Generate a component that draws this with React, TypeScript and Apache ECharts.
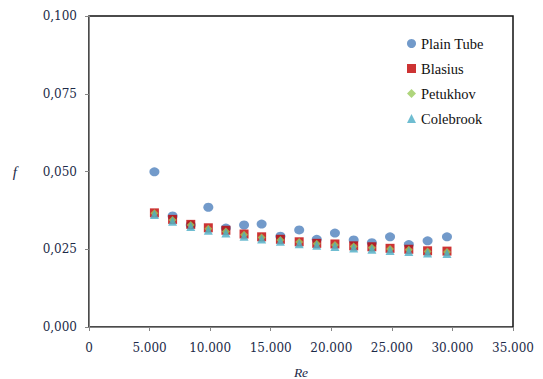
import React, { useEffect, useRef } from "react";
import * as echarts from "echarts";

const reynolds = [5400, 6900, 8400, 9850, 11300, 12800, 14250, 15800, 17350, 18800, 20300, 21850, 23350, 24850, 26400, 27950, 29550];
const plainTube = [0.0499, 0.0357, 0.0328, 0.0385, 0.0318, 0.0328, 0.0331, 0.0292, 0.0312, 0.0282, 0.0302, 0.0280, 0.0271, 0.0290, 0.0265, 0.0277, 0.0290];
const blasius = [0.0367, 0.0346, 0.0330, 0.0319, 0.0311, 0.0299, 0.0290, 0.0282, 0.0274, 0.0269, 0.0267, 0.0261, 0.0258, 0.0253, 0.0250, 0.0245, 0.0244];
const petukhov = [0.0366, 0.0344, 0.0328, 0.0316, 0.0307, 0.0297, 0.0288, 0.0280, 0.0273, 0.0268, 0.0264, 0.0259, 0.0255, 0.0251, 0.0248, 0.0243, 0.0241];
const colebrook = [0.0362, 0.0340, 0.0323, 0.0311, 0.0302, 0.0292, 0.0283, 0.0276, 0.0268, 0.0263, 0.0259, 0.0254, 0.0250, 0.0246, 0.0243, 0.0238, 0.0236];
const seriesNames = ["Plain Tube", "Blasius", "Petukhov", "Colebrook"];

const FONT = "'Liberation Serif', 'Times New Roman', serif";
const TICK_FONT = "'DejaVu Serif', serif";
const TXT = "#1c2a48";

function pairs(ys: number[]) {
  return reynolds.map((x, i) => [x, ys[i]]);
}

export default function App() {
  const ref = useRef<HTMLDivElement>(null);
  useEffect(() => {
    const chart = echarts.init(ref.current!, null, { renderer: "svg" });
    const fmtX = (v: number) => (v === 0 ? "0" : v.toLocaleString("en-US").replace(/,/g, "."));
    const fmtY = (v: number) => v.toFixed(3).replace(".", ",");
    chart.setOption({
      animation: false,
      backgroundColor: "#ffffff",
      textStyle: { fontFamily: FONT },
      grid: {
        left: 89,
        right: 30,
        top: 16,
        bottom: 52,
        containLabel: false,
        outerBoundsMode: "none",
        show: true,
        borderColor: "#111111",
        borderWidth: 1.5,
        backgroundColor: "transparent",
      },
      legend: {
        orient: "vertical",
        left: 402,
        top: 31,
        itemGap: 10,
        itemWidth: 9,
        itemHeight: 9,
        data: seriesNames,
        textStyle: { fontFamily: FONT, fontSize: 14.5, color: "#111" },
        selectedMode: false,
      },
      xAxis: {
        type: "value",
        min: 0,
        max: 35000,
        interval: 5000,
        name: "Re",
        nameLocation: "middle",
        nameGap: 38,
        nameTextStyle: { fontFamily: FONT, fontStyle: "italic", fontSize: 13.5, color: TXT },
        axisLine: { show: true, onZero: false, lineStyle: { color: "#868686", width: 1 } },
        axisTick: { show: true, inside: false, length: 4, lineStyle: { color: "#868686" } },
        axisLabel: { formatter: fmtX, fontFamily: TICK_FONT, fontSize: 12, color: TXT, margin: 15 },
        splitLine: { show: false },
        z: 5,
      },
      yAxis: {
        type: "value",
        min: 0,
        max: 0.1,
        interval: 0.025,
        name: "f",
        nameLocation: "middle",
        nameGap: 72,
        nameRotate: 0,
        nameTextStyle: { fontFamily: FONT, fontStyle: "italic", fontSize: 15, color: TXT },
        axisLine: { show: true, onZero: false, lineStyle: { color: "#868686", width: 1 } },
        axisTick: { show: true, inside: false, length: 4, lineStyle: { color: "#868686" } },
        axisLabel: { formatter: fmtY, fontFamily: TICK_FONT, fontSize: 12, color: TXT, margin: 12 },
        splitLine: { show: false },
        z: 5,
      },
      series: [
        {
          name: "Plain Tube",
          type: "scatter",
          data: pairs(plainTube),
          symbol: "circle",
          symbolSize: [10, 9],
          itemStyle: { color: "#4f81bd" },
          z: 1,
        },
        {
          name: "Blasius",
          type: "scatter",
          data: pairs(blasius),
          symbol: "rect",
          symbolSize: 9,
          itemStyle: { color: "#c00000" },
          z: 2,
        },
        {
          name: "Petukhov",
          type: "scatter",
          data: pairs(petukhov),
          symbol: "diamond",
          symbolSize: 8,
          itemStyle: { color: "#9bcb5b" },
          z: 3,
        },
        {
          name: "Colebrook",
          type: "scatter",
          data: pairs(colebrook),
          symbol: "triangle",
          symbolSize: 9,
          itemStyle: { color: "#4bacc6" },
          z: 4,
        },
      ],
    });
    return () => chart.dispose();
  }, []);
  return <div ref={ref} style={{ width: 543, height: 379, position: "absolute", left: 0, top: 0 }} />;
}
